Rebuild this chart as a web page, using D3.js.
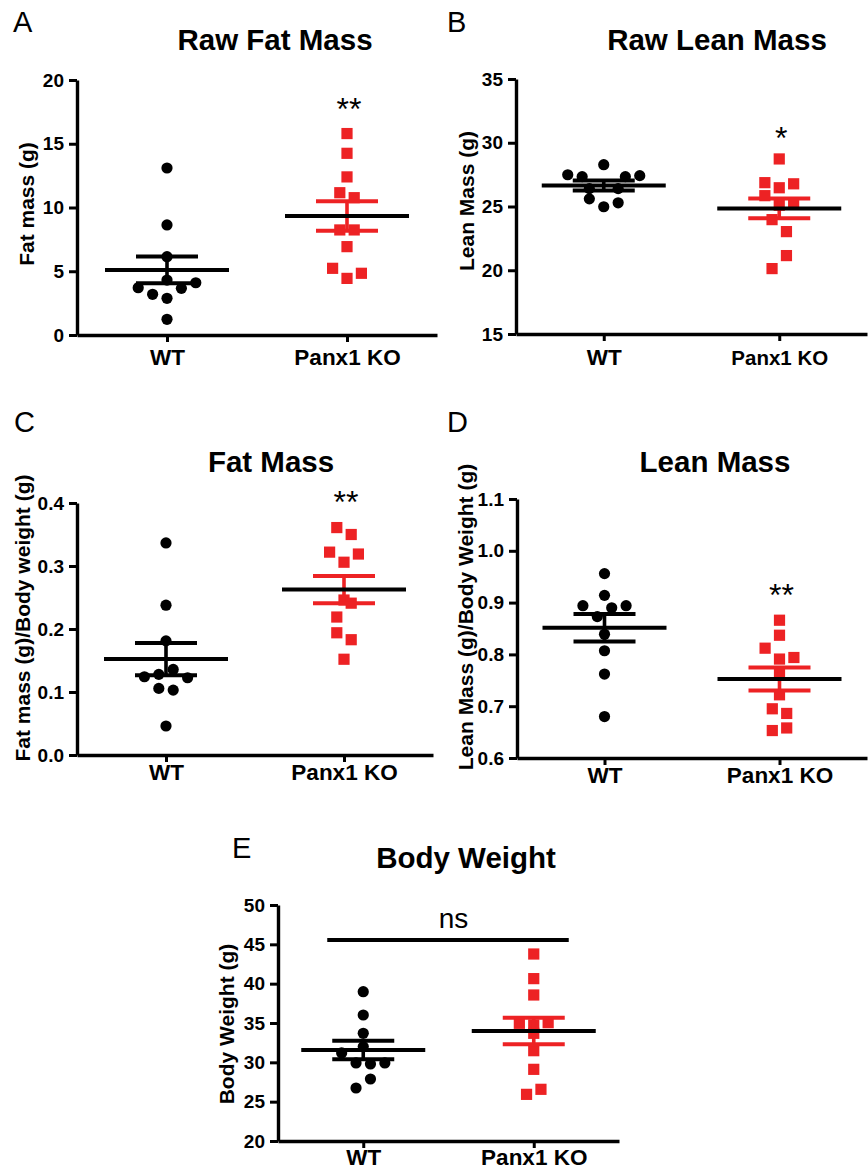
<!DOCTYPE html>
<html>
<head>
<meta charset="utf-8">
<script src="https://cdn.jsdelivr.net/npm/d3@7"></script>
<style>
  html, body { margin: 0; padding: 0; background: #fff; }
  svg { display: block; font-family: "Liberation Sans", Arial, sans-serif; }
</style>
</head>
<body>
<svg id="chart" width="868" height="1170"></svg>
<script>
// ---------- DATA ----------
const categories = ["WT", "Panx1 KO"];

// Panel A: Raw Fat Mass (g)
const rawFatWT = [13.1, 8.63, 6.14, 4.31, 4.1, 3.71, 3.66, 3.19, 2.88, 1.23];
const rawFatWTJitter = [0, 0, 0, 0, 4, -4, 2, -2, 0, 0];
const rawFatKO = [15.8, 14.25, 12.4, 11.16, 10.77, 8.24, 8.24, 6.93, 5.23, 4.84, 4.44];
const rawFatKOJitter = [0, 0, 0, -1, 1, -1, 1, 0, -2, 2, 0];
const rawFatMean = [5.1, 9.33];
const rawFatSEM = [1.05, 1.16];
const rawFatTicks = [0, 5, 10, 15, 20];

// Panel B: Raw Lean Mass (g)
const rawLeanWT = [28.28, 27.49, 27.34, 27.34, 27.42, 26.4, 26.4, 25.6, 25.29, 24.98];
const rawLeanWTJitter = [0, -5, -3, 3, 5, -2, 2, -2, 2, 0];
const rawLeanKO = [28.73, 26.87, 26.47, 26.78, 25.85, 25.1, 25.3, 23.97, 23.03, 21.15, 20.13];
const rawLeanKOJitter = [0, -2, 0, 2, -2, 0, 2, -1, 1, 1, -1];
const rawLeanMean = [26.65, 24.85];
const rawLeanSEM = [0.39, 0.77];
const rawLeanTicks = [15, 20, 25, 30, 35];

// Panel C: Fat mass (g)/Body weight (g)
const fatRatioWT = [0.3366, 0.2378, 0.1812, 0.1358, 0.1242, 0.128, 0.1226, 0.1057, 0.103, 0.046];
const fatRatioWTJitter = [0, 0, 0, 1, -3, -1, 3, -1, 1, 0];
const fatRatioKO = [0.361, 0.350, 0.322, 0.319, 0.306, 0.246, 0.241, 0.219, 0.194, 0.183, 0.152];
const fatRatioKOJitter = [-1, 1, -2, 2, 0, 0, 1, -1, -1, 1, 0];
const fatRatioMean = [0.1522, 0.2626];
const fatRatioSEM = [0.0256, 0.0217];
const fatRatioTicks = ["0.0", "0.1", "0.2", "0.3", "0.4"];

// Panel D: Lean Mass (g)/Body Weight (g)
const leanRatioWT = [0.956, 0.914, 0.894, 0.890, 0.894, 0.873, 0.839, 0.807, 0.762, 0.680];
const leanRatioWTJitter = [0, 0, -3, 1, 3, -1, 0, 0, 0, 0];
const leanRatioKO = [0.866, 0.837, 0.812, 0.791, 0.794, 0.765, 0.722, 0.695, 0.686, 0.653, 0.658];
const leanRatioKOJitter = [0, 0, -2, 0, 2, 0, 0, -1, 1, -1, 1];
const leanRatioMean = [0.8516, 0.7525];
const leanRatioSEM = [0.0265, 0.022];
const leanRatioTicks = ["0.6", "0.7", "0.8", "0.9", "1.0", "1.1"];

// Panel E: Body Weight (g)
const bodyWT = [38.98, 36.02, 33.69, 32.0, 31.19, 29.92, 29.79, 29.92, 27.88, 26.74];
const bodyWTJitter = [0, 0, 0, 0, -3, -1, 1, 3, 1, -1];
const bodyKO = [43.77, 40.64, 38.56, 34.96, 35.04, 34.75, 33.69, 31.48, 29.11, 26.57, 25.93];
const bodyKOJitter = [0, 0, 0, -2, 2, 0, 0, 0, 0, 1, -1];
const bodyMean = [31.57, 33.98];
const bodySEM = [1.17, 1.68];
const bodyTicks = [20, 25, 30, 35, 40, 45, 50];

// ---------- LAYOUT ----------
const RED = "#ED2224";
const FONT = "'Liberation Sans', Arial, sans-serif";
const JIT = 7.2;        // px per jitter unit
const R = 5.6;          // marker radius / half side
const MEAN_HALF = 62, CAP_HALF = 31;

const panels = [
  { letter: "A", lx: 13, ly: 32, title: "Raw Fat Mass", tx: 275, ty: 50,
    wt: rawFatWT, wtj: rawFatWTJitter, ko: rawFatKO, koj: rawFatKOJitter,
    mean: rawFatMean, sem: rawFatSEM, ticks: rawFatTicks,
    x0: 77, x1: 437, yTop: 80, yBot: 335, ylabel: "Fat mass (g)", ylx: 34, yly: 204,
    sig: "**", sigY: 120, koFont: 22.5, xlabBase: 365 },
  { letter: "B", lx: 447, ly: 32, title: "Raw Lean Mass", tx: 717, ty: 50,
    wt: rawLeanWT, wtj: rawLeanWTJitter, ko: rawLeanKO, koj: rawLeanKOJitter,
    mean: rawLeanMean, sem: rawLeanSEM, ticks: rawLeanTicks,
    x0: 516, x1: 867, yTop: 79, yBot: 334, ylabel: "Lean Mass (g)", ylx: 474, yly: 201,
    sig: "*", sigY: 149, koFont: 20.5, xlabBase: 365 },
  { letter: "C", lx: 14, ly: 432, title: "Fat Mass", tx: 271, ty: 472,
    wt: fatRatioWT, wtj: fatRatioWTJitter, ko: fatRatioKO, koj: fatRatioKOJitter,
    mean: fatRatioMean, sem: fatRatioSEM, ticks: fatRatioTicks,
    x0: 77, x1: 433, yTop: 503, yBot: 755, ylabel: "Fat mass (g)/Body weight (g)", ylx: 30, yly: 618,
    sig: "**", sigY: 513, koFont: 22.5, xlabBase: 780 },
  { letter: "D", lx: 447, ly: 432, title: "Lean Mass", tx: 715, ty: 472,
    wt: leanRatioWT, wtj: leanRatioWTJitter, ko: leanRatioKO, koj: leanRatioKOJitter,
    mean: leanRatioMean, sem: leanRatioSEM, ticks: leanRatioTicks,
    x0: 517, x1: 867, yTop: 499, yBot: 758, ylabel: "Lean Mass (g)/Body Weight (g)", ylx: 473, yly: 617,
    sig: "**", sigY: 606, koFont: 22.5, xlabBase: 783 },
  { letter: "E", lx: 232, ly: 858, title: "Body Weight", tx: 466, ty: 868,
    wt: bodyWT, wtj: bodyWTJitter, ko: bodyKO, koj: bodyKOJitter,
    mean: bodyMean, sem: bodySEM, ticks: bodyTicks,
    x0: 278, x1: 619, yTop: 905, yBot: 1141, ylabel: "Body Weight (g)", ylx: 234, yly: 1024,
    sig: null, koFont: 22.5, ns: true, xlabBase: 1165 }
];

const svg = d3.select("#chart");

panels.forEach(p => {
  const g = svg.append("g");
  const tickNums = p.ticks.map(Number);
  const y = d3.scaleLinear().domain(d3.extent(tickNums)).range([p.yBot, p.yTop]);
  const x = d3.scalePoint().domain(categories).range([p.x0, p.x1]).padding(0.5);

  // panel letter + title
  g.append("text").attr("x", p.lx).attr("y", p.ly)
    .attr("font-size", 29).attr("font-family", FONT).text(p.letter);
  g.append("text").attr("x", p.tx).attr("y", p.ty).attr("text-anchor", "middle")
    .attr("font-size", 29.5).attr("font-weight", "bold").attr("font-family", FONT).text(p.title);

  // axes
  const yAxis = d3.axisLeft(y).tickValues(tickNums).tickSize(8).tickSizeOuter(0).tickPadding(5)
    .tickFormat((d, i) => String(p.ticks[i]));
  const ya = g.append("g").attr("transform", `translate(${p.x0},0)`).call(yAxis);
  const xAxis = d3.axisBottom(x).tickSize(7).tickSizeOuter(0).tickPadding(0);
  const xa = g.append("g").attr("transform", `translate(0,${p.yBot})`).call(xAxis);
  [ya, xa].forEach(a => {
    a.select(".domain").attr("stroke", "#000").attr("stroke-width", 3.4);
    a.selectAll(".tick line").attr("stroke", "#000").attr("stroke-width", 3);
  });
  ya.selectAll(".tick text").attr("font-size", 19).attr("font-weight", "bold")
    .attr("font-family", FONT).attr("fill", "#000");
  xa.selectAll(".tick text").attr("font-size", (d) => d === "WT" ? 22.5 : p.koFont)
    .attr("font-weight", "bold").attr("font-family", FONT).attr("fill", "#000")
    .attr("y", p.xlabBase - p.yBot).attr("dy", null);

  // y label
  g.append("text").attr("transform", `translate(${p.ylx},${p.yly}) rotate(-90)`)
    .attr("text-anchor", "middle").attr("font-size", 21).attr("font-weight", "bold")
    .attr("font-family", FONT).text(p.ylabel);

  // points
  const cw = x("WT"), ck = x("Panx1 KO");
  g.selectAll("circle.wt").data(p.wt).join("circle")
    .attr("cx", (d, i) => cw + p.wtj[i] * JIT).attr("cy", d => y(d))
    .attr("r", R).attr("fill", "#000");
  g.selectAll("rect.ko").data(p.ko).join("rect")
    .attr("x", (d, i) => ck + p.koj[i] * JIT - R).attr("y", d => y(d) - R)
    .attr("width", 2 * R).attr("height", 2 * R).attr("fill", RED);

  // error bars + mean
  [cw, ck].forEach((cx, i) => {
    const col = i === 0 ? "#000" : RED;
    const m = p.mean[i], s = p.sem[i];
    g.append("line").attr("x1", cx).attr("x2", cx).attr("y1", y(m + s)).attr("y2", y(m - s))
      .attr("stroke", col).attr("stroke-width", 3.6);
    [m + s, m - s].forEach(v => {
      g.append("line").attr("x1", cx - CAP_HALF).attr("x2", cx + CAP_HALF)
        .attr("y1", y(v)).attr("y2", y(v)).attr("stroke", col).attr("stroke-width", 4);
    });
  });
  [cw, ck].forEach((cx, i) => {
    g.append("line").attr("x1", cx - MEAN_HALF).attr("x2", cx + MEAN_HALF)
      .attr("y1", y(p.mean[i])).attr("y2", y(p.mean[i])).attr("stroke", "#000").attr("stroke-width", 4);
  });

  if (p.sig) {
    g.append("text").attr("x", ck + 2).attr("y", p.sigY).attr("text-anchor", "middle")
      .attr("font-size", 32).attr("font-family", FONT).text(p.sig);
  }
  if (p.ns) {
    g.append("line").attr("x1", cw - 36).attr("x2", ck + 35)
      .attr("y1", 940).attr("y2", 940).attr("stroke", "#000").attr("stroke-width", 4);
    g.append("text").attr("x", (cw + ck) / 2 + 5).attr("y", 928).attr("text-anchor", "middle")
      .attr("font-size", 28).attr("font-family", FONT).text("ns");
  }
});
</script>
</body>
</html>
